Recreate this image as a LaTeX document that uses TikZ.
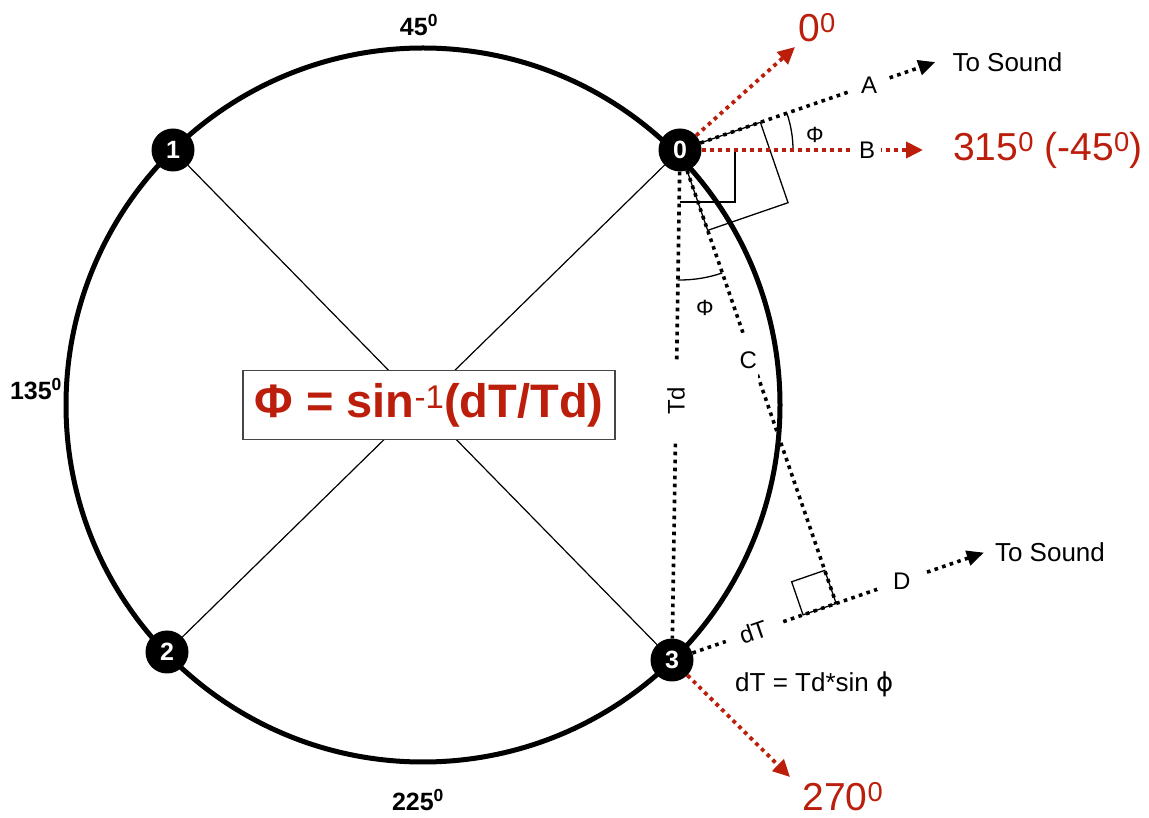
\documentclass[tikz,border=0pt]{standalone}
\usepackage{fontspec}
\setmainfont{Liberation Sans}
\newfontfamily\symfont{DejaVu Sans}
\usepackage{tikz}
\usetikzlibrary{arrows.meta,calc,positioning,backgrounds}
\definecolor{MicRed}{RGB}{188,30,12}
\definecolor{MicGray}{RGB}{70,70,70}
\tikzset{
  mic/.style={circle,fill=black,minimum size=43pt,inner sep=0pt,text=white,font=\fontsize{25}{25}\selectfont\bfseries},
  ring/.style={line width=5pt},
  spoke/.style={line width=1.2pt},
  sqmark/.style={line width=1.3pt},
  bdot/.style={line width=3.6pt,dash pattern=on 3.6pt off 4.4pt},
  barr/.style={bdot,-{Triangle[length=17pt,width=15pt]}},
  rdot/.style={MicRed,line width=3.8pt,dash pattern=on 3.8pt off 4.2pt,-{Triangle[length=17pt,width=16pt]}},
  onlabel/.style={fill=white,inner sep=1pt,font=\fontsize{24}{24}\selectfont},
  phi/.style={inner sep=0pt,font=\fontsize{22}{22}\selectfont},
  lbl/.style={inner sep=2pt,font=\fontsize{26}{26}\selectfont},
  deg/.style={inner sep=0pt,font=\fontsize{25}{25}\selectfont\bfseries},
  rdeg/.style={MicRed,inner sep=0pt,font=\fontsize{39}{39}\selectfont},
  formula/.style={draw=MicGray,line width=1.3pt,fill=white,minimum width=372pt,minimum height=69pt,inner sep=0pt,text=MicRed,font=\fontsize{47}{47}\selectfont\bfseries},
}
\begin{document}
\begin{tikzpicture}[x=1pt,y=1pt]
  \useasboundingbox (0,0) rectangle (1149,817);
  \coordinate (c) at (423,412);
  \draw[ring] (c) circle[radius=357];
  \node[mic] (m0) at (680,667) {0};
  \node[mic] (m1) at (173,667) {1};
  \node[mic] (m2) at (167,165) {2};
  \node[mic] (m3) at (672,157) {3};
  \draw[spoke] (m1) -- (m3);
  \draw[spoke] (m0) -- (m2);
  \node[formula] (form) at (429,412) {Φ = sin\textsuperscript{\mdseries -1}(dT/Td)};

  \coordinate (tip0) at (795,770);
  \coordinate (tipA) at ($(m0)+(19:270)$);
  \coordinate (tipB) at (923,667);
  \coordinate (cdir) at ($(m0)+(-71:100)$);
  \coordinate (foot) at ($(m0)!(m3)!(cdir)$);
  \coordinate (tipD) at ($(m3)!1.9!(foot)$);
  \coordinate (tip270) at (790,40);

  \begin{scope}[on background layer]
    \draw[sqmark] (m0.center) ++(55,0) -- ++(0,-52) -- ++(-55,0);
    \draw[sqmark] (m0.center) -- ++(19:85) -- ++(-71:85) -- ++(-161:85) -- cycle;
    \draw[sqmark] (m0.center) ++(0:113) arc[start angle=0,end angle=19,radius=113];
    \draw[sqmark] (m0.center) ++(-91:130) arc[start angle=-91,end angle=-71,radius=130];
  \end{scope}
  \draw[sqmark] (foot) -- ++(199:35) -- ++(109:35) -- ++(19:35) -- cycle;

  \draw[rdot] (m0) -- (tip0);
  \draw[rdot] (m0) -- (tipB);
  \draw[barr] (m0) -- (tipA);
  \draw[bdot] (m0) -- (m3);
  \draw[bdot] (m0) -- (foot);
  \draw[barr] (m3) -- (tipD);
  \draw[rdot] (m3) -- (tip270);

  \node[onlabel,minimum width=40pt] (labA) at ($(m0)+(19:200)$) {A};
  \node[onlabel,minimum width=27pt] (labB) at (867,667) {B};
  \node[onlabel,minimum height=54pt] (labC) at ($(m0)+(-71:222)+(-4,0)$) {C};
  \node[onlabel,rotate=19,minimum width=58pt,inner ysep=0pt] (labdT) at ($(m3)+(19:86)$) {dT};
  \node[onlabel,minimum width=50pt] (labD) at ($(m3)+(19:243)$) {D};
  \node[onlabel,rotate=90,minimum width=78pt] (labTd) at (676,416) {Td};
  \node[phi] (phiA) at (815,682) {Φ};
  \node[phi] (phiC) at (705,509) {Φ};

  \node[lbl,right=15pt of tipA] (snd0) {To Sound};
  \node[lbl,right=9pt of tipD] (snd3) {To Sound};
  \node[lbl,anchor=west] (eqdT) at (733,133) {dT = Td*sin {\symfont ϕ}};

  \node[rdeg] (deg0) at (817,789) {0\textsuperscript{0}};
  \node[rdeg,right=30pt of tipB] (deg315) {315\textsuperscript{0} (-45\textsuperscript{0})};
  \node[rdeg] (deg270) at (843,20) {270\textsuperscript{0}};
  \node[deg] (deg45) at (419,792) {45\textsuperscript{0}};
  \node[deg] (deg135) at (36,428) {135\textsuperscript{0}};
  \node[deg] (deg225) at (418,17) {225\textsuperscript{0}};
\end{tikzpicture}
\end{document}
